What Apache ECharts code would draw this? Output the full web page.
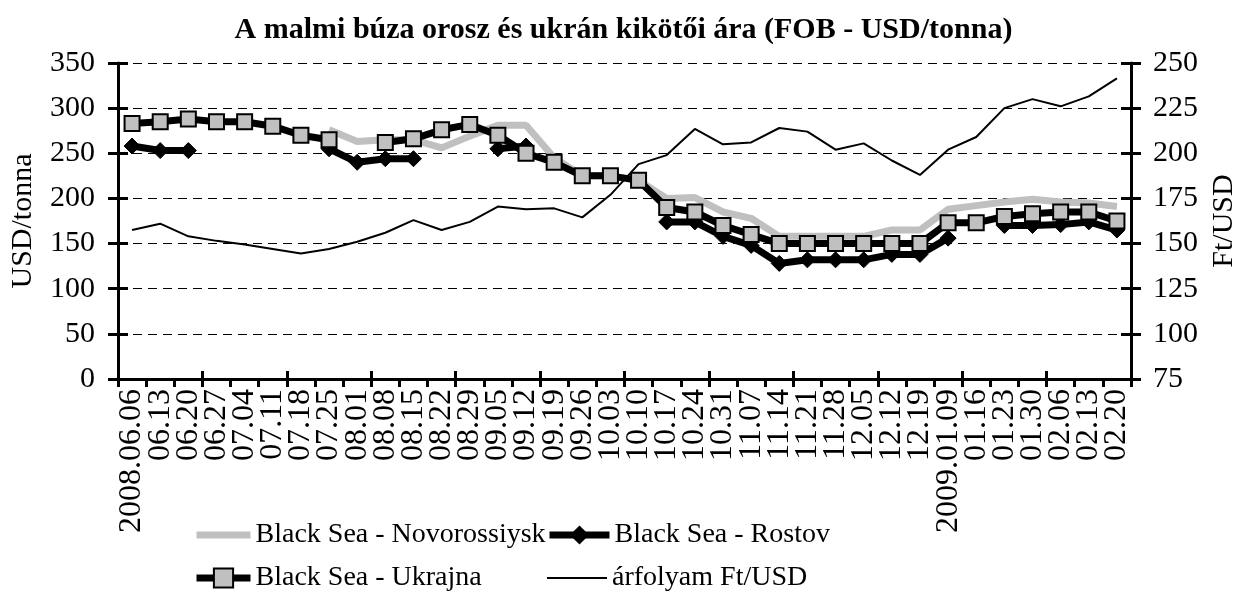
<!DOCTYPE html>
<html>
<head>
<meta charset="utf-8">
<script src="https://cdn.jsdelivr.net/npm/echarts@6/dist/echarts.min.js"></script>
<style>
  html, body { margin: 0; padding: 0; background: #fff; }
  #chart { width: 1247px; height: 594px; }
</style>
</head>
<body>
<div id="chart"></div>
<script>
// heti dátumok
var weeks = ['2008.06.06', '06.13', '06.20', '06.27', '07.04', '07.11', '07.18', '07.25', '08.01', '08.08',
  '08.15', '08.22', '08.29', '09.05', '09.12', '09.19', '09.26', '10.03', '10.10', '10.17',
  '10.24', '10.31', '11.07', '11.14', '11.21', '11.28', '12.05', '12.12', '12.19', '2009.01.09',
  '01.16', '01.23', '01.30', '02.06', '02.13', '02.20']

// USD/tonna
var novorossiysk = [null, null, null, null, null, null, null, 276, 263, 265,
  265, 256, 269, 281, 281, 245, 225, 225, 220, 200,
  201, 185, 178, 158, 158, 158, 158, 165, 165, 188,
  192, 196, 199, 196, 195, 191]
var rostov = [258, 253, 253, null, null, null, null, 255, 240, 244,
  244, null, null, 255, 258, null, null, null, null, 174,
  174, 158, 148, 128, 132, 132, 132, 138, 138, 156,
  null, 170, 170, 171, 174, 165]
var ukrajna = [283, 285, 288, 285, 285, 280, 270, 265, null, 262,
  266, 276, 282, 270, 250, 240, 225, 225, 220, 190,
  185, 170, 160, 150, 150, 150, 150, 150, 150, 173,
  173, 180, 183, 185, 185, 175]
// Ft/USD
var arfolyam = [157.5, 161, 154, 151.5, 149.5, 147, 144.5, 147, 151, 156,
  163, 157.5, 162, 170.5, 169, 169.5, 164.5, 177, 194, 199,
  213.5, 205, 206, 214, 212, 202, 205.5, 196, 188, 202,
  209, 225, 230, 226, 231.5, 241.5]

var font = 'Liberation Serif, Times New Roman, serif'
var fs = 30
var hidden = { color: 'rgba(0,0,0,0)', borderWidth: 0 }

// egy jelmagyarázat-elem = egy legend komponens (kézi 2x2 elrendezés)
function legendItem(item, left, top, w) {
  return {
    data: [item],
    left: left,
    top: top,
    padding: 0,
    itemWidth: w,
    itemHeight: 24,
    textStyle: { fontFamily: font, fontSize: 28, color: '#000' }
  }
}

var chart = echarts.init(document.getElementById('chart'))

chart.setOption({
  animation: false,
  backgroundColor: '#fff',
  textStyle: { fontFamily: font, color: '#000' },
  title: {
    text: 'A malmi búza orosz és ukrán kikötői ára (FOB - USD/tonna)',
    left: 'center',
    top: 10,
    textStyle: { fontFamily: font, fontWeight: 'bold', fontSize: 30, color: '#000' }
  },
  grid: { left: 113, right: 115, top: 63, bottom: 215 },
  legend: [
    legendItem({ name: 'Black Sea - Novorossiysk', itemStyle: hidden, lineStyle: { color: '#c0c0c0', width: 7 } }, 193, 521, 54),
    legendItem({ name: 'Black Sea - Rostov', itemStyle: { color: '#000', borderWidth: 0 }, lineStyle: { color: '#000', width: 7 } }, 546, 521, 60),
    legendItem({ name: 'Black Sea - Ukrajna', itemStyle: { color: '#c0c0c0', borderColor: '#000', borderWidth: 2 }, lineStyle: { color: '#000', width: 7 } }, 193, 564, 54),
    legendItem({ name: 'árfolyam Ft/USD', itemStyle: hidden, lineStyle: { color: '#000', width: 2 } }, 546, 564, 60)
  ],
  xAxis: [{
    type: 'category',
    data: weeks,
    boundaryGap: true,
    axisLine: { lineStyle: { color: '#000', width: 3 } },
    axisTick: { show: true, length: 8, lineStyle: { color: '#000', width: 3 } },
    axisLabel: { interval: 0, rotate: 90, margin: 10, fontFamily: font, fontSize: 32, color: '#000' },
    splitLine: { show: false }
  }, {
    // belső tick-fél (keresztező jelölők)
    type: 'category',
    data: weeks,
    position: 'bottom',
    boundaryGap: true,
    axisLine: { show: false },
    axisTick: { show: true, inside: true, length: 8, lineStyle: { color: '#000', width: 3 } },
    axisLabel: { show: false },
    splitLine: { show: false }
  }],
  yAxis: [{
    type: 'value',
    position: 'left',
    min: 0,
    max: 350,
    interval: 50,
    name: 'USD/tonna',
    nameLocation: 'middle',
    nameRotate: 90,
    nameGap: 80,
    nameTextStyle: { fontFamily: font, fontSize: fs, color: '#000' },
    axisLine: { show: true, lineStyle: { color: '#000', width: 3 } },
    axisTick: { show: true, length: 10, lineStyle: { color: '#000', width: 3 } },
    axisLabel: { margin: 23, fontFamily: font, fontSize: fs, color: '#000' },
    splitLine: { show: true, lineStyle: { color: '#000', width: 1.2, type: [9, 6] } }
  }, {
    type: 'value',
    position: 'right',
    min: 75,
    max: 250,
    interval: 25,
    name: 'Ft/USD',
    nameLocation: 'middle',
    nameRotate: 90,
    nameGap: 78,
    nameTextStyle: { fontFamily: font, fontSize: fs, color: '#000' },
    axisLine: { show: true, lineStyle: { color: '#000', width: 3 } },
    axisTick: { show: true, length: 10, lineStyle: { color: '#000', width: 3 } },
    axisLabel: { margin: 22, fontFamily: font, fontSize: fs, color: '#000' },
    splitLine: { show: false }
  }, {
    type: 'value',
    position: 'left',
    min: 0,
    max: 350,
    interval: 50,
    axisLine: { show: false },
    axisTick: { show: true, inside: true, length: 10, lineStyle: { color: '#000', width: 3 } },
    axisLabel: { show: false },
    splitLine: { show: false }
  }, {
    type: 'value',
    position: 'right',
    min: 75,
    max: 250,
    interval: 25,
    axisLine: { show: false },
    axisTick: { show: true, inside: true, length: 10, lineStyle: { color: '#000', width: 3 } },
    axisLabel: { show: false },
    splitLine: { show: false }
  }],
  series: [{
    name: 'Black Sea - Novorossiysk',
    type: 'line',
    data: novorossiysk,
    yAxisIndex: 0,
    showSymbol: false,
    symbol: 'none',
    lineStyle: { color: '#c0c0c0', width: 7 },
    itemStyle: { color: '#c0c0c0' }
  }, {
    name: 'Black Sea - Rostov',
    type: 'line',
    data: rostov,
    yAxisIndex: 0,
    symbol: 'diamond',
    symbolSize: 16,
    showAllSymbol: true,
    lineStyle: { color: '#000', width: 7 },
    itemStyle: { color: '#000', borderColor: '#000' }
  }, {
    name: 'Black Sea - Ukrajna',
    type: 'line',
    data: ukrajna,
    yAxisIndex: 0,
    symbol: 'rect',
    symbolSize: 15,
    showAllSymbol: true,
    lineStyle: { color: '#000', width: 7 },
    itemStyle: { color: '#c0c0c0', borderColor: '#000', borderWidth: 2 }
  }, {
    name: 'árfolyam Ft/USD',
    type: 'line',
    data: arfolyam,
    yAxisIndex: 1,
    symbol: 'none',
    lineStyle: { color: '#000', width: 2 },
    itemStyle: { color: '#000' }
  }]
})
</script>
</body>
</html>
